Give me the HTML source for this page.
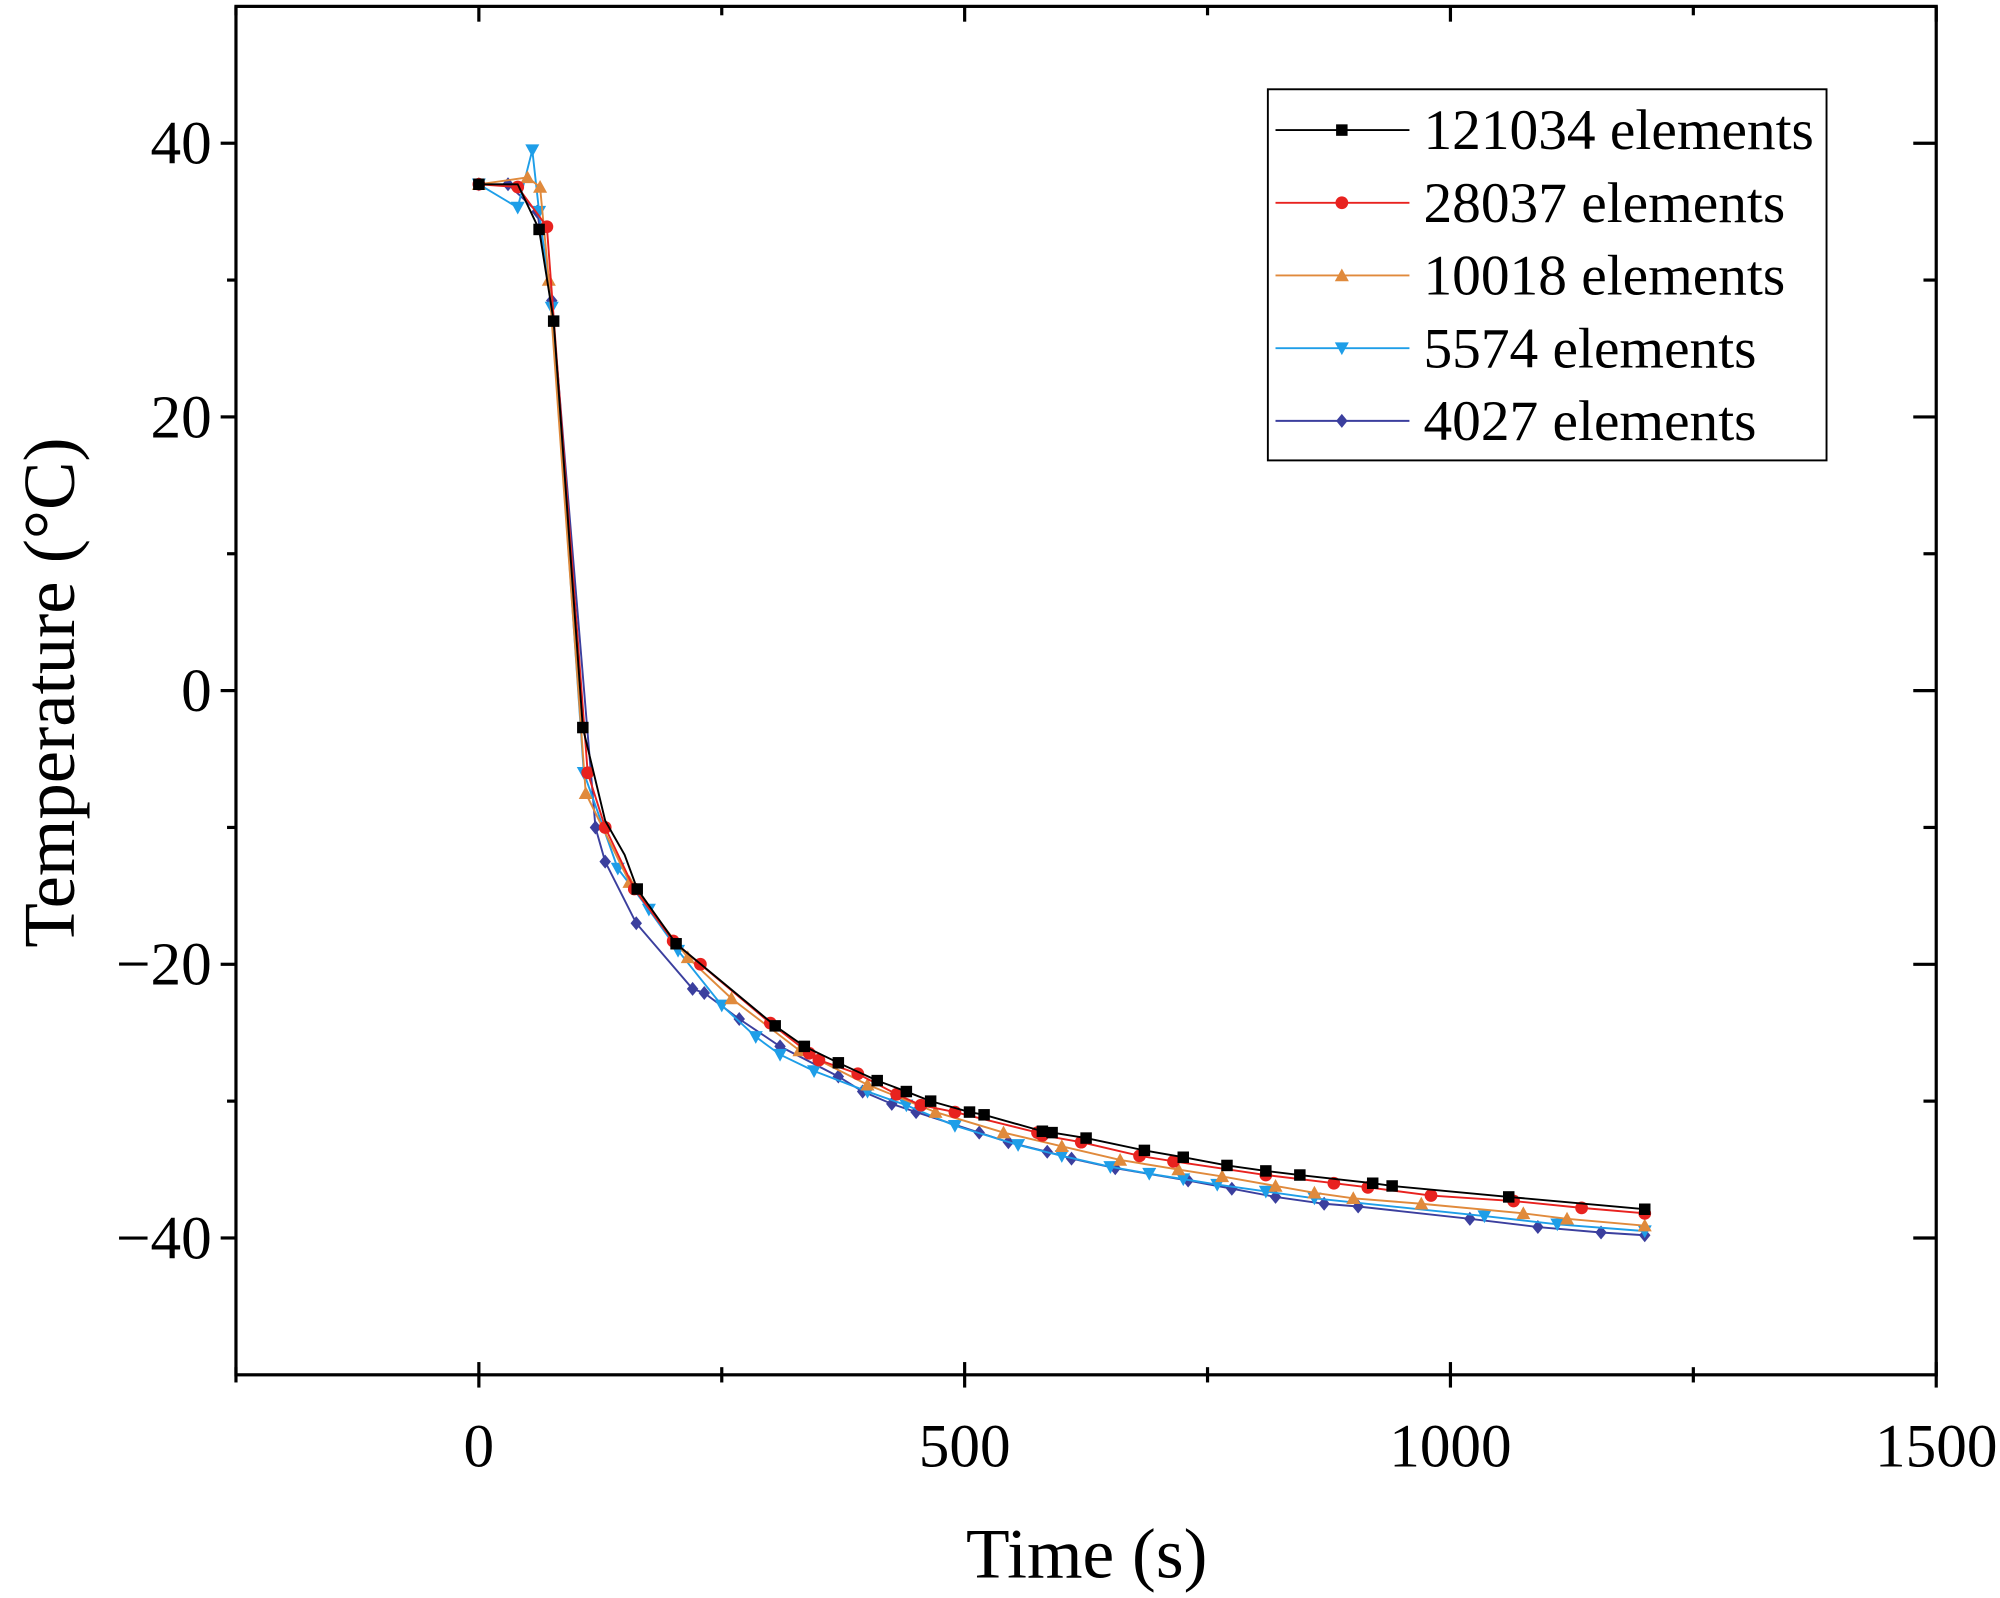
<!DOCTYPE html>
<html><head><meta charset="utf-8"><style>
html,body{margin:0;padding:0;background:#fff;}
svg{display:block;}
text{font-family:"Liberation Serif",serif;fill:#000;}
</style></head><body>
<svg id="chart" width="2000" height="1598" viewBox="0 0 1568 1253" preserveAspectRatio="none" xmlns="http://www.w3.org/2000/svg">
<rect x="0" y="0" width="1568" height="1253" fill="#fff"/>
<g id="marks"></g>
<rect x="185" y="5" width="1333" height="1073" fill="none" stroke="#000" stroke-width="2.5"/>
<g id="axes"></g>
<text x="852" y="1237" font-size="56" text-anchor="middle">Time (s)</text>
<text transform="translate(58,543) rotate(-90)" font-size="57" text-anchor="middle">Temperature (°C)</text>
<g>
<rect x="994" y="70" width="438" height="291" fill="#fff" stroke="#000" stroke-width="1.5"/>
<g id="legend-items"></g>
</g>
</svg>
<script>
const xTicks=[0,500,1000,1500];
const xMinor=[-250,250,750,1250];
const yTicks=[40,20,0,-20,-40];
const yMinor=[30,10,-10,-30];
const seriesNames=["121034 elements","28037 elements","10018 elements","5574 elements","4027 elements"];
const seriesColors=["#000000","#e8221f","#e08a3c","#1e9ee8","#3b3f9e"];
const seriesMarkers=["square","circle","triangle","triangle-down","diamond"];
const s1t=[0,40,62,77,107,130,150,163,203,305,335,370,410,440,465,505,520,580,590,625,685,725,770,810,845,920,940,1060,1200];
const s1v=[37,37,33.7,27,-2.7,-9.5,-12,-14.5,-18.5,-24.5,-26,-27.2,-28.5,-29.3,-30,-30.8,-31,-32.2,-32.3,-32.7,-33.6,-34.1,-34.7,-35.1,-35.4,-36,-36.2,-37,-37.9];
const s2t=[0,40,70,112,130,160,200,228,300,340,350,390,430,455,490,575,580,620,680,715,810,880,915,980,1065,1135,1200];
const s2v=[37,36.8,33.9,-6,-10,-14.5,-18.3,-20,-24.3,-26.5,-27,-28,-29.5,-30.3,-30.8,-32.3,-32.5,-33,-34,-34.4,-35.4,-36,-36.3,-36.9,-37.3,-37.8,-38.2];
const s3t=[0,50,63,72,110,155,215,260,330,400,470,540,600,660,720,765,820,860,900,970,1075,1120,1200];
const s3v=[37,37.5,36.8,30,-7.5,-14,-19.5,-22.5,-26.3,-28.8,-30.8,-32.3,-33.3,-34.3,-35,-35.5,-36.2,-36.7,-37.1,-37.5,-38.2,-38.6,-39.1];
const s4t=[0,40,55,62,75,108,143,175,205,250,285,310,345,400,440,490,555,600,650,690,725,760,810,860,1035,1110,1200];
const s4v=[37,35.3,39.5,35,28,-6,-13,-16,-19,-23,-25.3,-26.6,-27.8,-29.3,-30.3,-31.8,-33.2,-34,-34.8,-35.3,-35.7,-36.1,-36.6,-37.1,-38.4,-39,-39.5];
const s5t=[0,30,60,75,120,130,162,220,232,268,310,370,395,425,450,515,545,585,610,655,730,775,820,870,905,1020,1090,1155,1200];
const s5v=[37,37,35,28.5,-10,-12.5,-17,-21.8,-22.1,-24,-26,-28.2,-29.3,-30.2,-30.8,-32.3,-33,-33.7,-34.2,-34.9,-35.8,-36.4,-37,-37.5,-37.7,-38.6,-39.2,-39.6,-39.8];
const seriesT=[s1t,s2t,s3t,s4t,s5t];
const seriesV=[s1v,s2v,s3v,s4v,s5v];
const s1NoMarker=[40,130,150];

const NS="http://www.w3.org/2000/svg";
const X0=185,X1=1518,Y0=1078,Y1=5,XMIN=-250,XMAX=1500,YMIN=-50,YMAX=50;
function sx(t){return X0+(t-XMIN)/(XMAX-XMIN)*(X1-X0);}
function sy(v){return Y0-(v-YMIN)/(YMAX-YMIN)*(Y0-Y1);}
function mk(tag,attrs,parent){const e=document.createElementNS(NS,tag);for(const k in attrs)e.setAttribute(k,attrs[k]);parent.appendChild(e);return e;}
const axes=document.getElementById('axes');
xTicks.forEach(t=>{const x=sx(t);
 let l=mk('line',{x1:x,x2:x,y1:Y0-10,y2:Y0+10,stroke:'#000','stroke-width':2.5},axes);
 
 let l2=mk('line',{x1:x,x2:x,y1:Y1,y2:Y1+12,stroke:'#000','stroke-width':2.5},axes);
 
 let tx=mk('text',{x:x,y:1150,'font-size':48,'text-anchor':'middle'},axes);tx.textContent=t;
 });
xMinor.forEach(t=>{const x=sx(t);
 let l=mk('line',{x1:x,x2:x,y1:Y0-6,y2:Y0+6,stroke:'#000','stroke-width':2.5},axes);
 
 let l2=mk('line',{x1:x,x2:x,y1:Y1,y2:Y1+7,stroke:'#000','stroke-width':2.5},axes);
 });
yTicks.forEach(v=>{const y=sy(v);
 let l=mk('line',{x1:X0-12,x2:X0,y1:y,y2:y,stroke:'#000','stroke-width':2.5},axes);
 
 let l2=mk('line',{x1:X1-18,x2:X1,y1:y,y2:y,stroke:'#000','stroke-width':2.5},axes);
 
 let tx=mk('text',{x:166,y:y+16,'font-size':48,'text-anchor':'end'},axes);tx.textContent=(v<0?'\u2212'+(-v):v);
 });
yMinor.forEach(v=>{const y=sy(v);
 let l=mk('line',{x1:X0-7,x2:X0,y1:y,y2:y,stroke:'#000','stroke-width':2.5},axes);
 
 let l2=mk('line',{x1:X1-10,x2:X1,y1:y,y2:y,stroke:'#000','stroke-width':2.5},axes);
 });
function marker(kind,x,y,c,parent){let e;const r=4.5;
 if(kind==='square')e=mk('rect',{x:x-r,y:y-r,width:2*r,height:2*r,fill:c},parent);
 else if(kind==='circle')e=mk('circle',{cx:x,cy:y,r:r+0.5,fill:c},parent);
 else if(kind==='triangle')e=mk('polygon',{points:`${x},${y-r-1} ${x-r-1},${y+r} ${x+r+1},${y+r}`,fill:c},parent);
 else if(kind==='triangle-down')e=mk('polygon',{points:`${x},${y+r+1} ${x-r-1},${y-r} ${x+r+1},${y-r}`,fill:c},parent);
 else e=mk('polygon',{points:`${x},${y-r-1} ${x+r},${y} ${x},${y+r+1} ${x-r},${y}`,fill:c},parent);
 return e;}
const marks=document.getElementById('marks');
const leg=document.getElementById('legend-items');
for(let i=4;i>=0;i--){
 const g=mk('g',{},marks);
 
 
 const pts=seriesT[i].map((t,j)=>sx(t)+','+sy(seriesV[i][j])).join(' ');
 const pl=mk('polyline',{points:pts,fill:'none',stroke:seriesColors[i],'stroke-width':1.5},g);
 
 
 seriesT[i].forEach((t,j)=>{
  if(i===0&&s1NoMarker.includes(t))return;
  const m=marker(seriesMarkers[i],sx(t),sy(seriesV[i][j]),seriesColors[i],g);
  
  });
}
seriesNames.forEach((n,i)=>{const y=102+i*57;
 const g=mk('g',{},leg);
 
 
 mk('line',{x1:1000,x2:1105,y1:y,y2:y,stroke:seriesColors[i],'stroke-width':1.5},g);
 marker(seriesMarkers[i],1052,y,seriesColors[i],g);
 const t=mk('text',{x:1116,y:y+15,'font-size':45},g);t.textContent=n;});
</script>
</body></html>
